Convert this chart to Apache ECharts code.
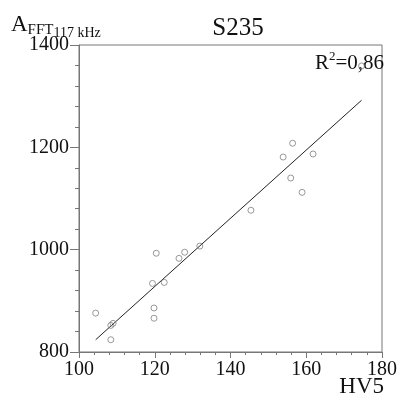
<!DOCTYPE html>
<html>
<head>
<meta charset="utf-8">
<script src="https://cdn.jsdelivr.net/npm/echarts@6/dist/echarts.min.js"></script>
<style>
  html, body { margin: 0; padding: 0; background: #fff; }
  #chart { width: 400px; height: 405px; }
</style>
</head>
<body>
<div id="chart"></div>
<script>
// 数据：HV5 与 A_FFT(117 kHz)
const hv5 = [104.4, 108.4, 109.0, 108.4, 120.4, 119.4, 119.8, 119.8, 122.5, 126.4, 127.9, 131.9,
             156.4, 153.9, 161.8, 155.9, 158.9, 145.4, 174.6];
const afft = [876, 852, 856, 824, 993, 934, 886, 866, 936, 983, 995, 1007,
              1208, 1181, 1187, 1140, 1112, 1077, 1359];
// 回归线端点
const fitX = [104.4, 174.6];
const fitY = [824, 1292];
const xTicks = [100, 120, 140, 160, 180];
const yTicks = [800, 1000, 1200, 1400];

const serif = 'Liberation Serif';
const axisColor = '#777';

const chart = echarts.init(document.getElementById('chart'));

const option = {
    animation: false,
    backgroundColor: '#fff',
    title: {
        text: 'S235',
        left: 233,
        top: 11,
        textAlign: 'center',
        textStyle: { fontFamily: serif, fontSize: 25, fontWeight: 'normal', color: '#111' }
    },
    grid: {
        left: 79, right: 14, top: 45, bottom: 53,
        show: true, borderColor: axisColor, borderWidth: 1, backgroundColor: '#fff'
    },
    xAxis: {
        type: 'value',
        min: xTicks[0], max: xTicks[xTicks.length - 1], interval: 20,
        axisLine: { lineStyle: { color: axisColor } },
        axisTick: { length: 6, lineStyle: { color: axisColor } },
        minorTick: { show: true, splitNumber: 5, length: 3, lineStyle: { color: axisColor } },
        splitLine: { show: false },
        axisLabel: { margin: 8, fontFamily: serif, fontSize: 20, color: '#111', formatter: v => String(v) }
    },
    yAxis: {
        type: 'value',
        min: yTicks[0], max: yTicks[yTicks.length - 1], interval: 200,
        axisLine: { show: true, lineStyle: { color: axisColor } },
        axisTick: { show: true, length: 9, lineStyle: { color: axisColor } },
        minorTick: { show: true, splitNumber: 5, length: 4, lineStyle: { color: axisColor } },
        splitLine: { show: false },
        axisLabel: { margin: 10, fontFamily: serif, fontSize: 20, color: '#111', formatter: v => String(v) }
    },
    graphic: [
        {
            type: 'text',
            left: 11, top: 11,
            style: {
                text: '{a|A}{b|FFT}{c|117 kHz}',
                rich: {
                    a: { fontFamily: serif, fontSize: 23, fill: '#111', verticalAlign: 'top', lineHeight: 24 },
                    b: { fontFamily: serif, fontSize: 15, fill: '#111', padding: [10, 0, 0, 0], lineHeight: 24 },
                    c: { fontFamily: serif, fontSize: 14, fill: '#111', padding: [15, 0, 0, 0], lineHeight: 24 }
                }
            }
        },
        {
            type: 'text',
            right: 16, top: 47,
            style: {
                text: '{r|R}{s|2}{r|=0,86}',
                rich: {
                    r: { fontFamily: serif, fontSize: 21, fill: '#111', padding: [6, 0, 0, 0], lineHeight: 26 },
                    s: { fontFamily: serif, fontSize: 13, fill: '#111', padding: [0, 0, 8, 0], lineHeight: 26 }
                }
            }
        },
        {
            type: 'text',
            right: 16, top: 375,
            style: { text: 'HV5', fontFamily: serif, fontSize: 23, fill: '#111' }
        }
    ],
    series: [
        {
            type: 'line',
            data: fitX.map((x, i) => [x, fitY[i]]),
            symbol: 'none',
            lineStyle: { color: '#222', width: 1 },
            z: 2
        },
        {
            type: 'scatter',
            data: hv5.map((x, i) => [x, afft[i]]),
            symbol: 'circle',
            symbolSize: 6,
            itemStyle: { color: 'rgba(255,255,255,0)', borderColor: '#808080', borderWidth: 1 },
            z: 3
        }
    ]
};

chart.setOption(option);
</script>
</body>
</html>
